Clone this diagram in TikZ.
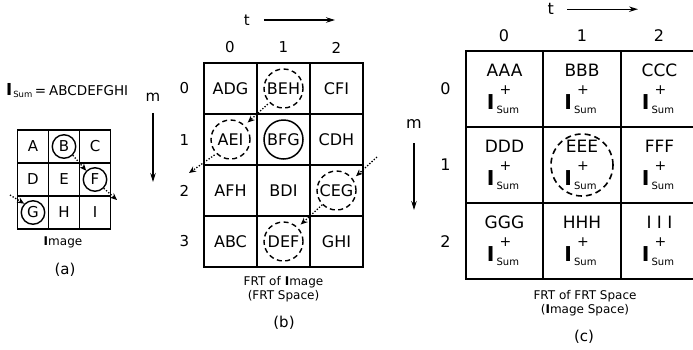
\documentclass[tikz,border=0pt]{standalone}
\usepackage{fontspec}
\setmainfont{DejaVu Sans}
\usetikzlibrary{arrows.meta}
\newcommand{\fsa}{\fontsize{15}{18}\selectfont}
\newcommand{\fsb}{\fontsize{16}{19}\selectfont}
\newcommand{\fsc}{\fontsize{17}{20}\selectfont}
\newcommand{\fsd}{\fontsize{16}{19}\selectfont}
\newcommand{\fsl}{\fontsize{12}{14}\selectfont}
\newcommand{\isum}{{\fontsize{20.5}{20}\selectfont\bfseries I}\kern2pt\rlap{\kern3pt\smash{\raisebox{14.5pt}{\fontsize{14}{14}\selectfont+}}}\raisebox{-4pt}{\fontsize{10}{10}\selectfont Sum}\kern3pt}
\tikzset{ca/.style={draw,line width=1.2pt,minimum width=31pt,minimum height=33pt,inner sep=0pt,font=\fsa},
 cb/.style={ca,line width=1.4pt,minimum width=53pt,minimum height=51pt,font=\fsb},
 cc/.style={ca,line width=2.1pt,minimum width=77.5pt,minimum height=76pt,font=\fsc,align=center},
 ring/.style={draw,circle,line width=1.4pt,inner sep=0pt,minimum size=23.5pt},
 dring/.style={ring,dash pattern=on 5pt off 3.5pt,minimum size=39pt},
 dar/.style={line width=1.3pt,dash pattern=on 1.3pt off 1.7pt,-{Stealth[length=7pt,width=6pt]}},
 axis/.style={line width=1.1pt,-{Stealth[length=9pt,width=5.5pt]}},
 lb/.style={inner sep=0pt,font=\fsa},lc/.style={lb,font=\fsd},
 capt/.style={inner sep=0pt,font=\fsl,align=center}}
\begin{document}
\begin{tikzpicture}[x=1pt,y=-1pt]
\useasboundingbox (0,0) rectangle (693,349);
% (a) image
\node[anchor=base west,inner sep=0pt] (isum) at (6,95.7) {{\fontsize{16.5}{17}\selectfont\bfseries I}\kern1pt\raisebox{-2pt}{\fontsize{8.5}{9}\selectfont Sum}\kern2.5pt{\fontsize{13.5}{14}\selectfont=\kern3pt ABCDEFGHI}};
\node[ca] (iA) at (33,146.5) {A};\node[ca] (iB) at (64,146.5) {B};\node[ca] (iC) at (95,146.5) {C};
\node[ca] (iD) at (33,179.5) {D};\node[ca] (iE) at (64,179.5) {E};\node[ca] (iF) at (95,179.5) {F};
\node[ca] (iG) at (33,212.5) {G};\node[ca] (iH) at (64,212.5) {H};\node[ca] (iI) at (95,212.5) {I};
\node[ring] (rB) at (iB) {};\node[ring] (rF) at (iF) {};\node[ring] (rG) at (iG) {};
\coordinate (ain) at (10,195);\coordinate (aout) at (117,200);
\draw[dar] (rB.south east)--(rF.north west);
\draw[dar] (rF.south east)--(aout);\draw[dar] (ain)--(rG.north west);
\node[capt] (capa) at (63,242.6) {\textbf{I}mage};
\node[lb] (la) at (65,269.5) {(a)};
% (b) FRT space
\node[lb] (bt) at (246.7,20) {t};\coordinate (bte) at (335,20);
\draw[axis] (bt.east) ++(14,0)--(bte);
\node[lb] (bm) at (153,97.5) {m};\coordinate (bme) at (153,182);
\draw[axis] (bm.south) ++(0,11)--(bme);
\node[lb] (bc0) at (230,47.5) {0};\node[lb] (bc1) at (283.5,47.5) {1};\node[lb] (bc2) at (336.5,47.5) {2};
\node[lb] (br0) at (184.5,88.5) {0};\node[lb] (br1) at (184.5,140) {1};
\node[lb] (br2) at (184.5,190.5) {2};\node[lb] (br3) at (184.5,241.5) {3};
\node[cb] (bADG) at (230.5,88.5) {ADG};\node[cb] (bBEH) at (283.5,88.5) {BEH};\node[cb] (bCFI) at (336.5,88.5) {CFI};
\node[cb] (bAEI) at (230.5,139.5) {AEI};\node[cb] (bBFG) at (283.5,139.5) {BFG};\node[cb] (bCDH) at (336.5,139.5) {CDH};
\node[cb] (bAFH) at (230.5,190.5) {AFH};\node[cb] (bBDI) at (283.5,190.5) {BDI};\node[cb] (bCEG) at (336.5,190.5) {CEG};
\node[cb] (bABC) at (230.5,241.5) {ABC};\node[cb] (bDEF) at (283.5,241.5) {DEF};\node[cb] (bGHI) at (336.5,241.5) {GHI};
\node[dring] (rBEH) at (bBEH) {};\node[dring] (rAEI) at (bAEI) {};
\node[ring,minimum size=39pt,line width=1.5pt] (rBFG) at (bBFG) {};
\node[dring] (rCEG) at (bCEG) {};\node[dring] (rDEF) at (bDEF) {};
\coordinate (bout) at (189,173);\coordinate (bin) at (377,157);
\draw[dar,shorten <=2pt,shorten >=4pt] (rBEH.south west)--(rAEI.north east);
\draw[dar,shorten <=2pt] (rAEI.south west)--(bout);
\draw[dar,shorten >=4pt] (bin)--(rCEG.35);
\draw[dar,shorten >=4pt] (rCEG.south west)--(rDEF.north east);
\node[capt] (capb) at (283.5,288.7) {FRT of \textbf{I}mage\\(FRT Space)};
\node[lb] (lbb) at (284,322.5) {(b)};
% (c) image space
\node[lc] (ct) at (550.7,9.2) {t};\coordinate (cte) at (638,9.2);
\draw[axis] (ct.east) ++(13,0)--(cte);
\node[lc] (cm) at (414,123.8) {m};\coordinate (cme) at (414,210);
\draw[axis] (cm.south) ++(0,15)--(cme);
\node[lc] (cc0) at (504,36) {0};\node[lc] (cc1) at (582,36) {1};\node[lc] (cc2) at (659,36) {2};
\node[lc] (cr0) at (445.5,88.5) {0};\node[lc] (cr1) at (445.5,165) {1};\node[lc] (cr2) at (445.5,242) {2};
\node[cc] (cA) at (504.5,89) {AAA\\[12.5pt]\isum};\node[cc] (cB) at (582,89) {BBB\\[12.5pt]\isum};\node[cc] (cC) at (659.5,89) {CCC\\[12.5pt]\isum};
\node[cc] (cD) at (504.5,165) {DDD\\[12.5pt]\isum};\node[cc] (cE) at (582,165) {EEE\\[12.5pt]\isum};\node[cc] (cF) at (659.5,165) {FFF\\[12.5pt]\isum};
\node[cc] (cG) at (504.5,241) {GGG\\[12.5pt]\isum};\node[cc] (cH) at (582,241) {HHH\\[12.5pt]\isum};\node[cc] (cI) at (659.5,241) {I I I\\[12.5pt]\isum};
\node[dring,line width=1.6pt,minimum size=62pt,dash pattern=on 6pt off 4pt] (rE) at (cE) {};
\node[capt] (capc) at (585,303.2) {FRT of FRT Space\\(\textbf{I}mage Space)};
\node[lb] (lbc) at (584,336.5) {(c)};
\end{tikzpicture}
\end{document}
